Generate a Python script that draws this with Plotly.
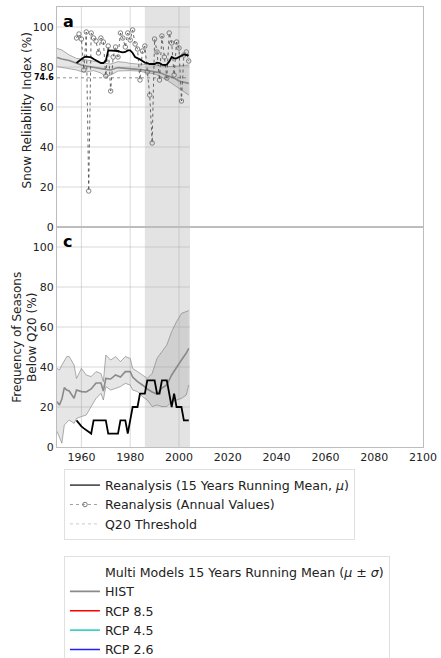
import plotly.graph_objects as go

# ---------------- data ----------------
obs_years = list(range(1958, 2005))
annual_sri = [94.5, 96.5, 94, 78.5, 97.5, 18, 97, 94.5, 93, 87,
              94.5, 92.5, 75.5, 90.5, 68, 85, 90, 85, 97, 94.5,
              90, 97, 93.5, 98.5, 91.5, 89, 73.5, 88, 90.5, 77.5,
              66, 42, 94, 87.5, 73.5, 95.5, 85, 74.5, 97, 92,
              76, 92.5, 89.5, 63, 86, 87.5, 83]
running_sri = [82, 83, 84, 84.8, 85.2, 85, 84.8, 84, 83.2, 82.5,
               82, 82, 83, 88.3, 88.3, 88, 88.2, 88, 87.5, 87.3,
               87.5, 88.3, 88.3, 87, 85, 84.5, 83.8, 83, 82.2, 82,
               81.5, 81.5, 81.5, 82.2, 82, 81.2, 81, 81.2, 82.7, 85,
               84.3, 84.3, 85, 85.3, 86.3, 86, 85.8]
q20_threshold = 74.6
freq_below_q20 = [13.3, 11.7, 10.3, 9.3, 8.3, 7.5, 6.7, 13.3, 13.3, 13.3,
                  13.3, 13.3, 13.3, 6.7, 6.7, 6.7, 6.7, 6.7, 13.3, 13.3,
                  13.3, 6.7, 13.3, 20, 20, 20, 26.7, 26.7, 26.7, 33.3,
                  33.3, 33.3, 33.3, 26.7, 26.7, 33.3, 33.3, 33.3, 26.7, 20,
                  26.7, 20, 20, 20, 13.3, 13.3, 13.3]

mod_years_a = [1950, 1952, 1955, 1958, 1960, 1962, 1965, 1968, 1970, 1972, 1975, 1978,
               1980, 1983, 1985, 1988, 1990, 1992, 1995, 1998, 2000, 2002, 2004]
hist_mean_a = [84.8, 84, 83.3, 81.7, 81, 80.5, 79.7, 79.2, 78.8, 78.5, 79.7, 79.5,
               79.2, 78.8, 78.6, 78, 77.6, 77.2, 75.8, 74.5, 73, 72.3, 71.8]
hist_upper_a = [89.3, 88.5, 86, 84.3, 84, 83.5, 82.7, 82.2, 81.8, 81.5, 82.7, 82.3,
                81.8, 81.5, 81.5, 81.2, 81, 80.8, 80.2, 80.3, 80.7, 80.8, 81]
hist_lower_a = [80.2, 79.8, 79.3, 78.5, 77.7, 77.5, 78.2, 77, 75, 76, 78, 78.3,
                78.2, 78, 77.7, 77, 76.5, 75.5, 73.5, 71, 69.3, 67.5, 66]

mod_years_c = [1950, 1951, 1952, 1953, 1954, 1955, 1957, 1958, 1960, 1962, 1964, 1966,
               1968, 1969, 1970, 1972, 1974, 1976, 1978, 1980, 1981, 1983, 1985, 1987,
               1989, 1991, 1993, 1995, 1997, 1999, 2001, 2003, 2004]
hist_mean_c = [22.7, 21, 24, 29.7, 28.5, 28, 24.3, 28.5, 27.7, 27.5, 29, 32,
               32, 28, 34.3, 34, 36, 35, 37.7, 37.7, 35, 32.7, 31, 29,
               27.5, 26.5, 29.5, 31, 36, 40, 43.5, 47, 49.3]
hist_upper_c = [39.3, 38.5, 41, 43.5, 45.2, 45.2, 41, 34.3, 39.3, 36, 35.2, 37.7,
                36.8, 32.7, 46, 43.5, 45.2, 42.7, 45.2, 44.3, 39.3, 37.7, 36, 34.3,
                36.8, 44.3, 47.7, 51, 57.7, 62.7, 66.8, 68, 68.2]
hist_lower_c = [7.8, 4.8, 1.9, 11, 12.5, 13.5, 11.8, 14.3, 15.2, 16, 20.2, 24.3,
                26.8, 23.5, 30.2, 28.5, 29.3, 30.2, 31.8, 31, 28.5, 27.7, 25.2, 23.5,
                20.2, 21, 20.2, 20.2, 22.7, 23.5, 24.3, 26, 31]

ref_period = [1986, 2004.5]
x_ticks = [1960, 1980, 2000, 2020, 2040, 2060, 2080, 2100]
y_ticks = [0, 20, 40, 60, 80, 100]

# ---------------- figure ----------------
FONT = "DejaVu Sans"
fig = go.Figure()

BAND_FILL = "rgba(140,140,140,0.22)"
BAND_EDGE = "rgba(120,120,120,0.75)"
MEAN_COL = "#8a8a8a"

def add_band(xs, lo, hi, mean, xa, ya):
    fig.add_trace(go.Scatter(x=xs, y=lo, mode="lines", line=dict(color=BAND_EDGE, width=0.8),
                             showlegend=False, hoverinfo="skip", xaxis=xa, yaxis=ya))
    fig.add_trace(go.Scatter(x=xs, y=hi, mode="lines", line=dict(color=BAND_EDGE, width=0.8),
                             fill="tonexty", fillcolor=BAND_FILL,
                             showlegend=False, hoverinfo="skip", xaxis=xa, yaxis=ya))
    fig.add_trace(go.Scatter(x=xs, y=mean, mode="lines", line=dict(color=MEAN_COL, width=1.6),
                             showlegend=False, hoverinfo="skip", xaxis=xa, yaxis=ya))

# panel a
add_band(mod_years_a, hist_lower_a, hist_upper_a, hist_mean_a, "x", "y")
fig.add_trace(go.Scatter(x=[mod_years_a[0], obs_years[-1]], y=[q20_threshold, q20_threshold],
                         mode="lines", line=dict(color="#666666", width=0.7, dash="dot"),
                         showlegend=False, xaxis="x", yaxis="y"))
fig.add_trace(go.Scatter(x=obs_years, y=annual_sri, mode="lines+markers",
                         line=dict(color="#444444", width=0.8, dash="dot"),
                         marker=dict(symbol="circle-open", size=4.5, color="#666666", line=dict(width=0.8)),
                         showlegend=False, xaxis="x", yaxis="y"))
fig.add_trace(go.Scatter(x=obs_years, y=running_sri, mode="lines",
                         line=dict(color="black", width=1.8),
                         showlegend=False, xaxis="x", yaxis="y"))

# panel c
add_band(mod_years_c, hist_lower_c, hist_upper_c, hist_mean_c, "x2", "y2")
fig.add_trace(go.Scatter(x=obs_years, y=freq_below_q20, mode="lines",
                         line=dict(color="black", width=1.8),
                         showlegend=False, xaxis="x2", yaxis="y2"))

# legend 1
fig.add_trace(go.Scatter(x=[None], y=[None], mode="lines", line=dict(color="#555555", width=1.8),
                         name="Reanalysis (15 Years Running Mean, <i>μ</i>)", legend="legend"))
fig.add_trace(go.Scatter(x=[None], y=[None], mode="lines+markers",
                         line=dict(color="#888888", width=0.8, dash="dot"),
                         marker=dict(symbol="circle-open", size=4.5, color="#777777"),
                         name="Reanalysis (Annual Values)", legend="legend"))
fig.add_trace(go.Scatter(x=[None], y=[None], mode="lines", line=dict(color="#bbbbbb", width=0.8, dash="dot"),
                         name="Q20 Threshold", legend="legend"))
# legend 2
fig.add_trace(go.Scatter(x=[None], y=[None], mode="lines", line=dict(color="rgba(0,0,0,0)", width=0),
                         name="Multi Models 15 Years Running Mean (<i>μ</i> ± <i>σ</i>)", legend="legend2"))
for nm, col in [("HIST", "#8a8a8a"), ("RCP 8.5", "#ff0000"), ("RCP 4.5", "#40d0c8"), ("RCP 2.6", "#2020ff")]:
    fig.add_trace(go.Scatter(x=[None], y=[None], mode="lines", line=dict(color=col, width=1.6),
                             name=nm, legend="legend2"))

# shapes: reference period shading and grid (only over observed period)
shapes = [dict(type="rect", xref="x", yref="paper", x0=ref_period[0], x1=ref_period[1], y0=0, y1=1,
               fillcolor="#e3e3e3", line=dict(width=0), layer="below")]
for ya in ["y", "y2"]:
    for xv in x_ticks:
        if xv <= ref_period[1]:
            shapes.append(dict(type="line", xref="x", yref=ya, x0=xv, x1=xv, y0=0, y1=110,
                               line=dict(color="rgba(170,170,170,0.45)", width=1), layer="below"))
    for yv in y_ticks[1:]:
        shapes.append(dict(type="line", xref="x", yref=ya, x0=1950, x1=ref_period[1], y0=yv, y1=yv,
                           line=dict(color="rgba(170,170,170,0.45)", width=1), layer="below"))

annotations = [
    dict(text="<b>a</b>", xref="x domain", yref="y domain", x=0.01, y=0.985, xanchor="left", yanchor="top",
         showarrow=False, font=dict(family=FONT, size=16, color="black")),
    dict(text="<b>c</b>", xref="x2 domain", yref="y2 domain", x=0.01, y=0.985, xanchor="left", yanchor="top",
         showarrow=False, font=dict(family=FONT, size=16, color="black")),
    dict(text="<b>74.6</b>", xref="paper", yref="y", x=0, y=q20_threshold, xanchor="right", yanchor="middle",
         xshift=-1, showarrow=False, font=dict(family=FONT, size=8, color="black")),
    dict(text="Snow Reliability Index (%)", xref="paper", yref="paper", x=-0.082, y=0.765, textangle=-90,
         xanchor="center", yanchor="middle", showarrow=False, font=dict(family=FONT, size=12, color="#222")),
    dict(text="Frequency of Seasons<br>Below Q20 (%)", xref="paper", yref="paper", x=-0.088, y=0.25,
         textangle=-90, xanchor="center", yanchor="middle", showarrow=False,
         font=dict(family=FONT, size=12, color="#222")),
]

axis_common = dict(showgrid=False, zeroline=False, showline=True, mirror=True, linecolor="#bdbdbd",
                   linewidth=1, ticks="", tickfont=dict(family=FONT, size=11, color="#222"))

LEG_FONT = dict(family=FONT, size=12.6, color="#222")

fig.update_layout(
    width=441, height=658,
    margin=dict(l=57, r=18, t=7, b=211, autoexpand=False),
    paper_bgcolor="white", plot_bgcolor="white",
    font=dict(family=FONT, size=12, color="#222"),
    xaxis=dict(domain=[0, 1], range=[1950, 2100], anchor="y", showticklabels=False,
               tickvals=x_ticks, **axis_common),
    yaxis=dict(domain=[0.5, 1], range=[0, 110], anchor="x", tickvals=y_ticks, **axis_common),
    xaxis2=dict(domain=[0, 1], range=[1950, 2100], anchor="y2", tickvals=x_ticks, matches="x", **axis_common),
    yaxis2=dict(domain=[0, 0.5], range=[0, 110], anchor="x2", tickvals=y_ticks, **axis_common),
    shapes=shapes,
    annotations=annotations,
    legend=dict(x=0.019, y=-0.051, xanchor="left", yanchor="top", bgcolor="white",
                bordercolor="#e0e0e0", borderwidth=1, font=LEG_FONT,
                tracegroupgap=0, traceorder="normal", itemwidth=30),
    legend2=dict(x=0.019, y=-0.2485, xanchor="left", yanchor="top", bgcolor="white",
                 bordercolor="#e0e0e0", borderwidth=1, font=LEG_FONT,
                 tracegroupgap=0, traceorder="normal", itemwidth=30),
    showlegend=True,
)

fig.write_html("out.html")
